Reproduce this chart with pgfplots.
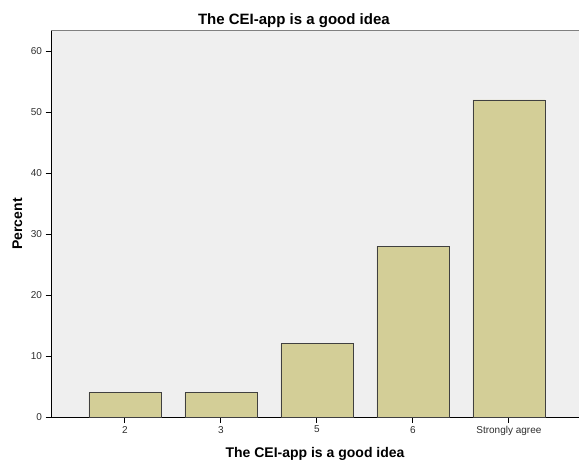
\documentclass[border=0pt]{standalone}
\usepackage{fontspec}
\setmainfont{Liberation Sans}
\usepackage{pgfplots}
\pgfplotsset{compat=1.18}
\definecolor{plotbg}{HTML}{EFEFEF}
\definecolor{barfill}{HTML}{D3CE97}
\definecolor{baredge}{HTML}{404040}
\definecolor{ticktext}{HTML}{2E2E2E}
\begin{document}
\begin{tikzpicture}
\begin{axis}[
    scale only axis, width=528pt, height=386pt,
    ybar, bar width=0.75,
    xmin=-0.77, xmax=4.73, ymin=0, ymax=63.3,
    axis background/.style={fill=plotbg},
    axis x line*=bottom, axis y line*=left,
    axis line style={black, line width=0.9pt},
    tick align=outside, major tick length=5.5pt,
    tick style={black, line width=0.9pt},
    xtick={0,1,2,3,4},
    xticklabels={2,3,5,6,Strongly agree},
    ytick={0,10,...,60},
    /pgf/number format/assume math mode=true,
    tick label style={font=\fontsize{10}{12}\selectfont, text=ticktext},
    every axis title shift=0pt,
    title={The CEI-app is a good idea},
    title style={font=\bfseries\fontsize{15}{18}\selectfont, at={(axis description cs:0.46,1)}, anchor=base, yshift=6.5pt},
    xlabel={The CEI-app is a good idea},
    xlabel style={font=\bfseries\fontsize{14}{17}\selectfont, at={(axis description cs:0.5,0)}, anchor=base, yshift=-40pt},
    ylabel={Percent},
    ylabel style={font=\bfseries\fontsize{14}{17}\selectfont, at={(axis description cs:-0.0549,0.5)}, anchor=base},
]
\draw[gray, line width=1pt] (rel axis cs:0,1) -- (rel axis cs:1,1);
\addplot[fill=barfill, draw=baredge, line width=0.8pt] coordinates {
    (0,4) (1,4) (2,12) (3,28) (4,52)
};
\end{axis}
\pgfresetboundingbox
\path ([xshift=-51pt,yshift=-47pt]current axis.south west) rectangle ([yshift=31pt]current axis.north east);
\end{tikzpicture}
\end{document}
